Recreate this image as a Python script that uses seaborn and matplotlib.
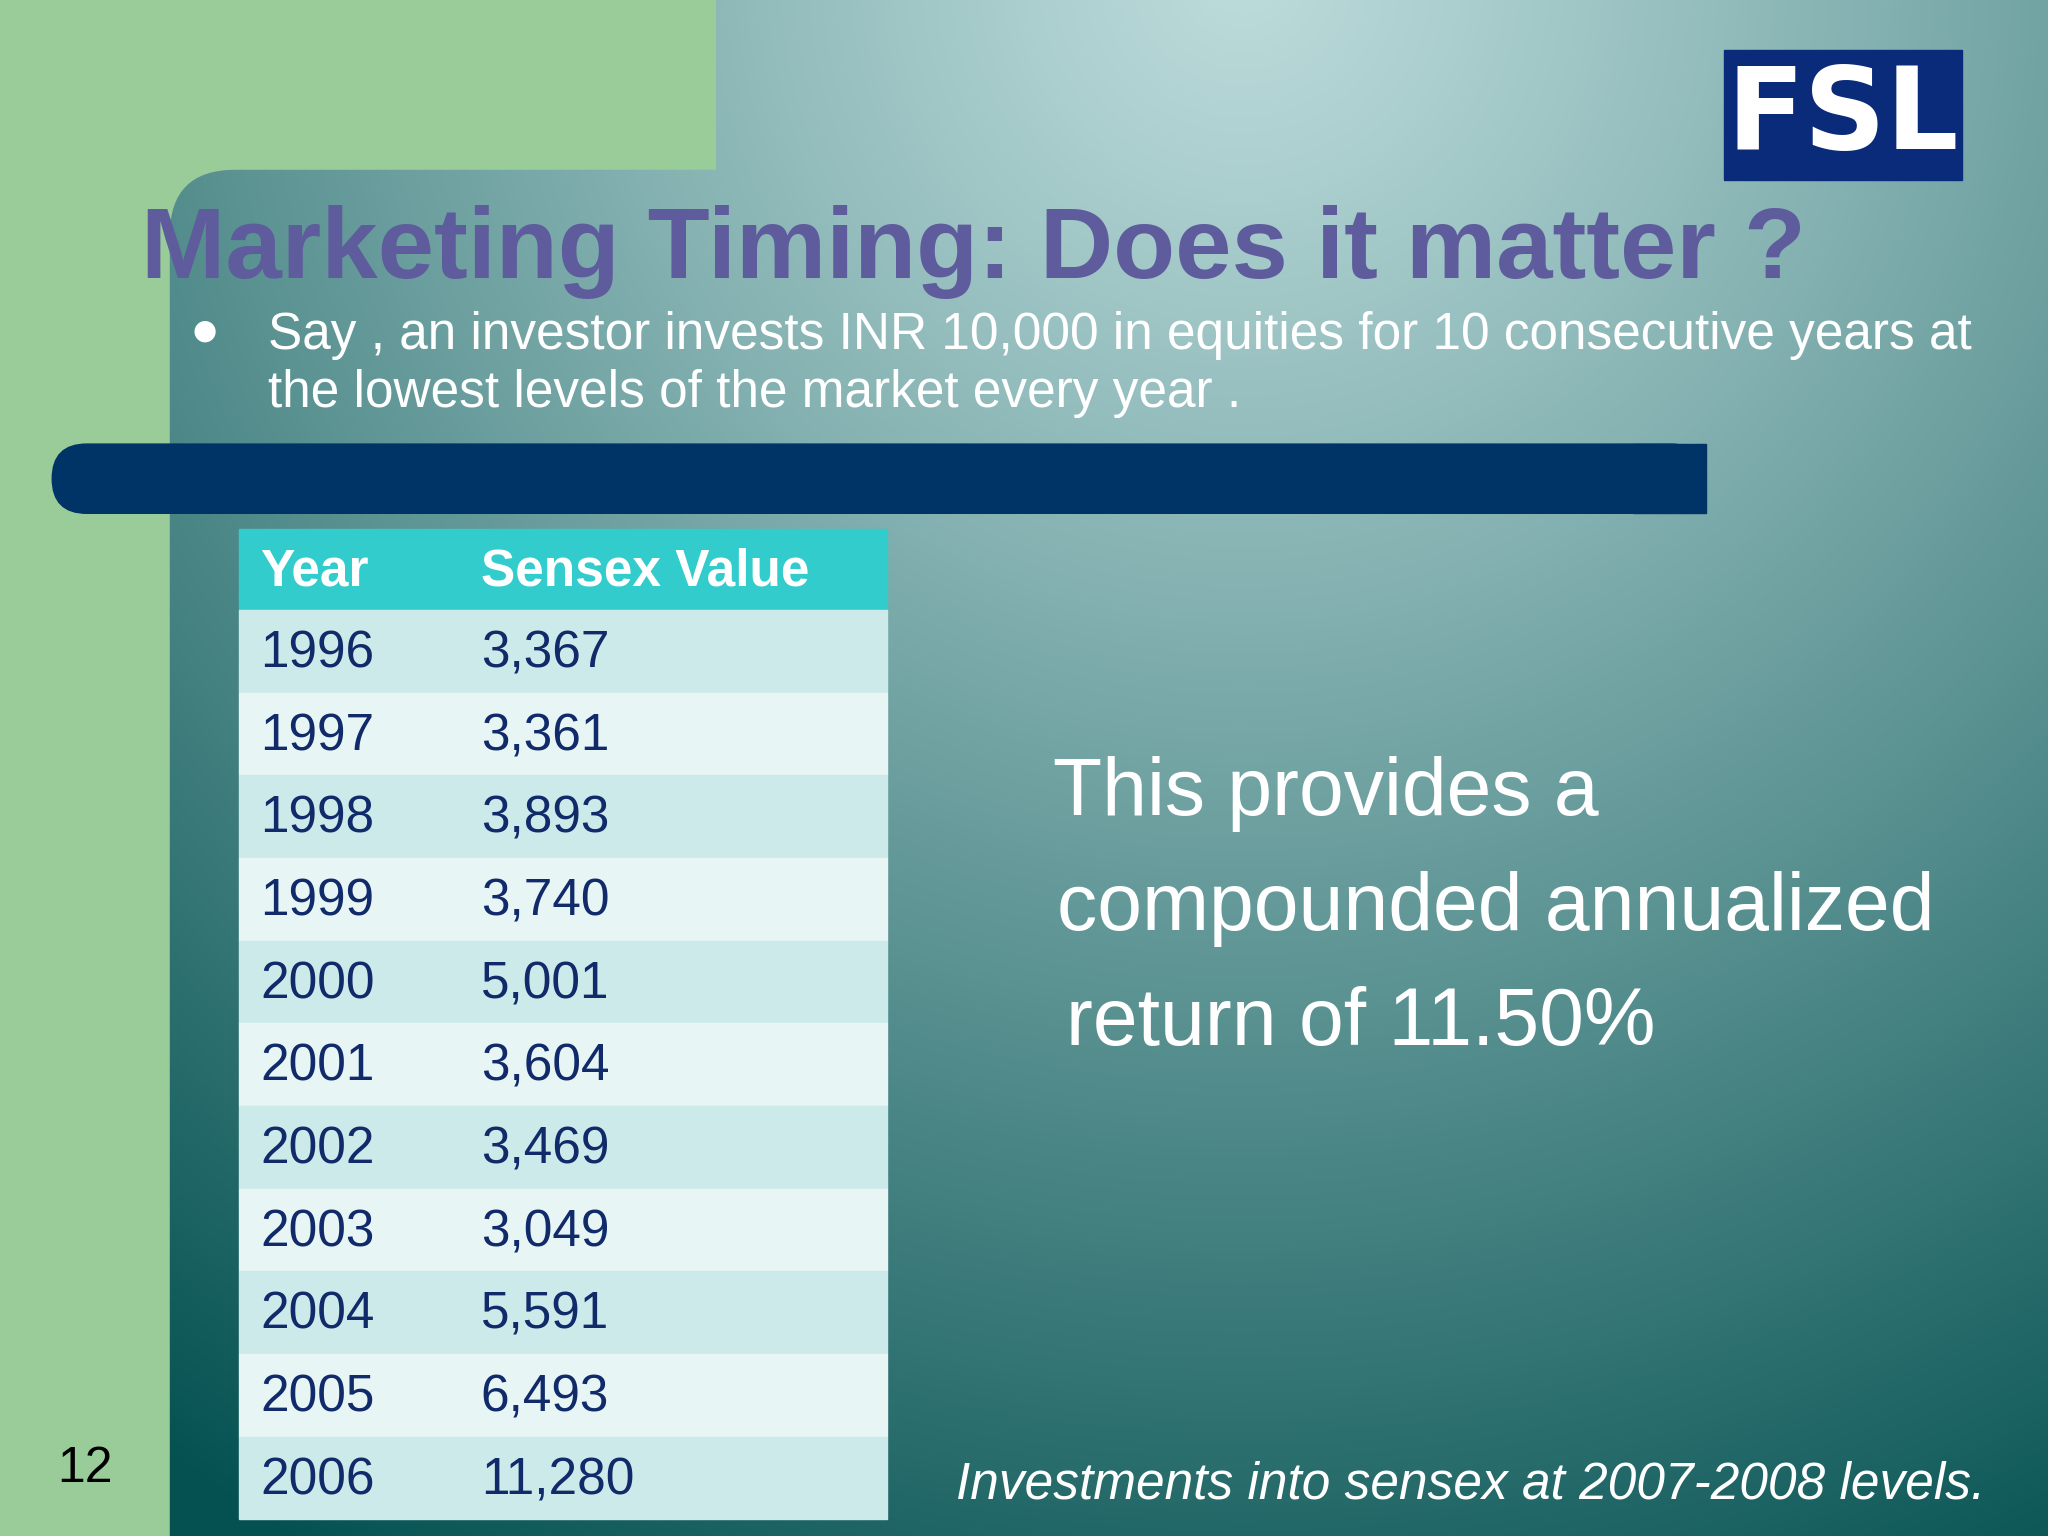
import numpy as np
import matplotlib
matplotlib.use("Agg")
import matplotlib.pyplot as plt
import seaborn as sns
from matplotlib.patches import Rectangle, FancyBboxPatch

sns.set_theme(style="white")
plt.rcParams['font.family'] = ['Liberation Sans', 'DejaVu Sans']

years = ["1996", "1997", "1998", "1999", "2000", "2001", "2002", "2003", "2004", "2005", "2006"]
values = ["3,367", "3,361", "3,893", "3,740", "5,001", "3,604", "3,469", "3,049", "5,591", "6,493", "11,280"]
headers = ["Year", "Sensex Value"]
title = "Marketing Timing: Does it matter ?"
bullet = "Say , an investor invests INR 10,000 in equities for 10 consecutive years at\nthe lowest levels of the market every year ."
big_text = ["This provides a", "compounded annualized", "return of 11.50%"]
footer = "Investments into sensex at 2007-2008 levels."

W, H = 1568, 1176
fig = plt.figure(figsize=(20.48, 15.36), dpi=100)
ax = fig.add_axes([0, 0, 1, 1])
ax.set_xlim(0, W); ax.set_ylim(H, 0); ax.axis("off")

green = "#99cc99"
ax.add_patch(Rectangle((0, 0), W, H, color=green, zorder=0))

# radial gradient
yy, xx = np.mgrid[0:H:2, 0:W:2]
d = np.sqrt((xx - 950) ** 2 + ((yy + 20) * 1.0) ** 2) / 1400
d = np.clip(d, 0, 1) ** 1.1
light = np.array([0.74, 0.86, 0.86]); dark = np.array([0.02, 0.32, 0.32])
img = light[None, None, :] * (1 - d[..., None]) + dark[None, None, :] * d[..., None]
clip1 = Rectangle((548, 0), W, 140, transform=ax.transData)
clip2 = FancyBboxPatch((130, 130), W, H, boxstyle="round,pad=0,rounding_size=50",
                       transform=ax.transData, facecolor="none", edgecolor="none")
ax.add_patch(clip2)
for c in (clip1, clip2):
    im = ax.imshow(img, extent=(0, W, H, 0), zorder=1, aspect="auto")
    im.set_clip_path(c)
ax.set_xlim(0, W); ax.set_ylim(H, 0)

# logo
ax.add_patch(Rectangle((1320, 38), 182, 100, color="#0a2a7a", zorder=3))
ax.text(1411, 90, "FSL", color="white", fontsize=82, fontweight="bold",
        ha="center", va="center", zorder=4, family=["DejaVu Sans"])

ax.text(108, 213, title, color="#5e5c9c", fontsize=73, fontweight="bold", zorder=4)
ax.text(157, 253, "\u25CF", color="white", fontsize=20, ha="center", va="center", zorder=4,
        family=["DejaVu Sans"])
ax.text(205, 238, bullet, color="white", fontsize=37, va="top", linespacing=1.25, zorder=4)

# navy bar
ax.add_patch(FancyBboxPatch((40, 340), 1266, 53, boxstyle="round,pad=0,rounding_size=26.5",
                            color="#003366", zorder=3))
ax.add_patch(Rectangle((1250, 340), 56, 53, color="#003366", zorder=3))

# table
x0, x1 = 183, 679
top, hh, rh = 405, 62, 63.3
ax.add_patch(Rectangle((x0, top), x1 - x0, hh, color="#33cccc", zorder=3))
ax.text(199, top + hh / 2 + 2, headers[0], color="white", fontsize=37, fontweight="bold", va="center", zorder=4)
ax.text(368, top + hh / 2 + 2, headers[1], color="white", fontsize=37, fontweight="bold", va="center", zorder=4)
for i, (yr, v) in enumerate(zip(years, values)):
    y = top + hh + i * rh
    ax.add_patch(Rectangle((x0, y), x1 - x0, rh, color="#cdeaea" if i % 2 == 0 else "#e8f5f5", zorder=3))
    ax.text(199, y + rh / 2 + 2, yr, color="#102a6a", fontsize=37, va="center", zorder=4)
    ax.text(368, y + rh / 2 + 2, v, color="#102a6a", fontsize=37, va="center", zorder=4)

for (s, x, y) in zip(big_text, [806, 809, 816], [608, 696, 784]):
    ax.text(x, y, s, color="white", fontsize=58, va="center", zorder=4)

ax.text(1520, 1137, footer, color="white", fontsize=37, style="italic", ha="right", va="center", zorder=4)
ax.text(65, 1125, "12", color="black", fontsize=36, ha="center", va="center", zorder=4)

fig.savefig("out.png", dpi=100)
